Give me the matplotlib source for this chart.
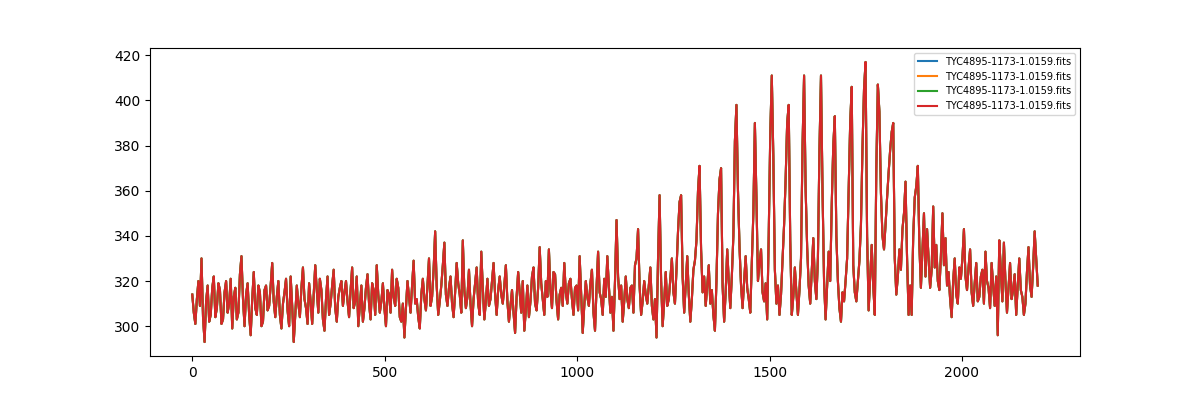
import numpy as np
import matplotlib
matplotlib.use("Agg")
import matplotlib.pyplot as plt

# flux, about one value every 1.5 px
flux = [
    314, 306, 301, 312, 320, 309, 330, 304, 293, 311,
    318, 302, 305, 317, 322, 304, 308, 319, 316, 301,
    303, 315, 320, 306, 310, 321, 299, 313, 317, 303,
    306, 323, 331, 312, 300, 314, 319, 305, 296, 312,
    324, 308, 305, 318, 315, 300, 302, 316, 318, 307,

    309, 318, 328, 311, 304, 313, 320, 305, 299, 310,
    315, 321, 307, 300, 322, 309, 293, 305, 318, 310,
    304, 317, 326, 312, 308, 301, 319, 311, 301, 314,
    327, 316, 306, 321, 316, 303, 298, 312, 322, 305,
    310, 318, 325, 308, 302, 313, 317, 320, 309, 315,

    320, 311, 304, 316, 326, 308, 311, 322, 300, 309,
    318, 302, 308, 317, 323, 310, 303, 319, 316, 305,
    327, 314, 306, 311, 319, 308, 300, 316, 314, 306,
    325, 313, 309, 321, 317, 304, 302, 310, 295, 308,
    320, 313, 306, 318, 329, 310, 312, 304, 299, 314,

    321, 312, 307, 318, 330, 309, 313, 325, 342, 318,
    305, 311, 318, 327, 337, 314, 309, 317, 322, 310,
    304, 315, 328, 319, 314, 306, 338, 316, 308, 313,
    325, 310, 300, 312, 319, 326, 310, 305, 333, 317,
    303, 311, 321, 309, 312, 320, 328, 314, 305, 316,

    322, 314, 310, 318, 327, 311, 302, 309, 316, 306,
    297, 313, 324, 315, 306, 320, 298, 307, 318, 304,
    311, 322, 326, 310, 307, 317, 335, 319, 312, 305,
    320, 313, 334, 316, 308, 324, 323, 311, 303, 314,
    317, 309, 328, 315, 310, 319, 321, 312, 305, 317,

    318, 307, 331, 314, 297, 309, 320, 313, 309, 319,
    325, 306, 298, 317, 333, 315, 312, 305, 321, 313,
    331, 318, 306, 313, 298, 320, 347, 322, 312, 318,
    302, 311, 322, 312, 308, 317, 318, 306, 327, 330,
    343, 318, 305, 311, 320, 314, 310, 318, 326, 309,

    303, 312, 295, 330, 358, 320, 300, 311, 324, 309,
    312, 321, 330, 315, 310, 325, 342, 355, 358, 322,
    306, 318, 331, 314, 302, 312, 325, 329, 338, 360,
    371, 334, 315, 322, 309, 318, 327, 310, 316, 305,
    298, 320, 350, 365, 370, 318, 302, 315, 334, 320,

    308, 322, 340, 382, 398, 360, 335, 318, 308, 320,
    331, 317, 312, 306, 328, 350, 390, 357, 320, 328,
    334, 315, 311, 319, 303, 340, 385, 411, 375, 325,
    310, 318, 305, 314, 329, 345, 365, 390, 398, 338,
    305, 313, 326, 315, 305, 316, 330, 380, 411, 361,

    335, 318, 310, 324, 339, 320, 312, 330, 378, 411,
    360, 320, 303, 318, 333, 320, 354, 380, 393, 340,
    320, 308, 302, 315, 311, 320, 330, 360, 390, 406,
    327, 315, 311, 320, 329, 345, 379, 405, 417, 340,
    307, 322, 336, 318, 305, 370, 407, 395, 359, 340,

    334, 345, 357, 368, 378, 386, 390, 330, 314, 322,
    334, 325, 343, 350, 364, 330, 305, 318, 305, 340,
    357, 362, 371, 336, 317, 333, 350, 322, 343, 330,
    317, 325, 353, 326, 336, 320, 316, 331, 350, 327,
    339, 318, 324, 312, 304, 320, 330, 314, 310, 326,

    321, 330, 343, 322, 316, 326, 334, 315, 309, 319,
    328, 311, 313, 322, 325, 310, 333, 320, 317, 308,
    328, 318, 309, 322, 296, 338, 325, 311, 337, 320,
    306, 317, 328, 312, 316, 323, 305, 318, 330, 316,
    313, 305, 310, 324, 335, 318, 313, 326, 342, 330,
    318,
]
pixel = np.linspace(0, 2197, len(flux))

labels = ["TYC4895-1173-1.0159.fits"] * 4

fig, ax = plt.subplots(figsize=(12, 4), dpi=100)
for lab in labels:
    ax.plot(pixel, flux, label=lab)

ax.legend(loc="upper right", fontsize=7)
fig.savefig("out.png")
